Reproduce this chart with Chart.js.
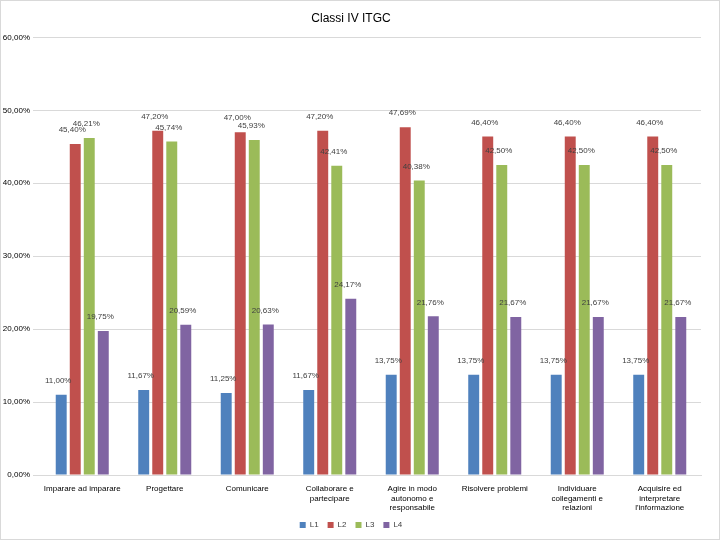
<!DOCTYPE html>
<html>
<head>
<meta charset="utf-8">
<script src="https://cdn.jsdelivr.net/npm/chart.js@4/dist/chart.umd.min.js"></script>
<style>
    html, body { margin: 0; padding: 0; background: #fff; }
    #wrap { position: absolute; left: 0; top: 0; width: 718px; height: 538px; border: 1px solid #d9d9d9; }
</style>
</head>
<body>
<div id="wrap"><canvas id="myChart" width="718" height="538"></canvas></div>
<script>
const categories = [
    ['Imparare ad imparare'],
    ['Progettare'],
    ['Comunicare'],
    ['Collaborare e', 'partecipare'],
    ['Agire in modo', 'autonomo e', 'responsabile'],
    ['Risolvere problemi'],
    ['Individuare', 'collegamenti e', 'relazioni'],
    ['Acquisire ed', 'interpretare', "l'informazione"]
];
const seriesNames = ['L1', 'L2', 'L3', 'L4'];
const valuesL1 = [11.00, 11.67, 11.25, 11.67, 13.75, 13.75, 13.75, 13.75];
const valuesL2 = [45.40, 47.20, 47.00, 47.20, 47.69, 46.40, 46.40, 46.40];
const valuesL3 = [46.21, 45.74, 45.93, 42.41, 40.38, 42.50, 42.50, 42.50];
const valuesL4 = [19.75, 20.59, 20.63, 24.17, 21.76, 21.67, 21.67, 21.67];
const colors = ['#4F81BD', '#C0504D', '#9BBB59', '#8064A2'];

const FONT = "'Liberation Sans', 'DejaVu Sans', sans-serif";

function fmt(v) {
    return v.toFixed(2).replace('.', ',') + '%';
}

// Draw value labels above each bar
const barLabels = {
    id: 'barLabels',
    afterDatasetsDraw(chart) {
        const ctx = chart.ctx;
        ctx.save();
        ctx.font = '8px ' + FONT;
        ctx.fillStyle = '#404040';
        ctx.textAlign = 'center';
        ctx.textBaseline = 'bottom';
        chart.data.datasets.forEach(function(ds, i) {
            const meta = chart.getDatasetMeta(i);
            meta.data.forEach(function(bar, j) {
                ctx.fillText(fmt(ds.data[j]), bar.x - 3, bar.y - 10);
            });
        });
        ctx.restore();
    }
};

const allValues = [valuesL1, valuesL2, valuesL3, valuesL4];

const ctx = document.getElementById('myChart').getContext('2d');
const chart = new Chart(ctx, {
    type: 'bar',
    data: {
        labels: categories,
        datasets: seriesNames.map(function(name, i) {
            return {
                label: name,
                data: allValues[i],
                backgroundColor: colors[i],
                categoryPercentage: 0.68,
                barPercentage: 0.78
            };
        })
    },
    options: {
        responsive: false,
        animation: false,
        layout: { padding: { top: 4, right: 18, bottom: 0, left: 0 } },
        plugins: {
            title: {
                display: true,
                text: 'Classi IV ITGC',
                color: '#000',
                font: { family: FONT, size: 12, weight: 'normal' },
                padding: { top: 6, bottom: 12 }
            },
            legend: {
                position: 'bottom',
                labels: {
                    boxWidth: 6,
                    boxHeight: 6,
                    color: '#404040',
                    font: { family: FONT, size: 8 },
                    padding: 9
                }
            },
            tooltip: { enabled: false }
        },
        scales: {
            x: {
                grid: { display: false },
                border: { color: '#d9d9d9' },
                ticks: {
                    color: '#000',
                    font: { family: FONT, size: 8 },
                    maxRotation: 0,
                    autoSkip: false,
                    padding: 1
                },
                afterFit: function(scale) { scale.height = 37; }
            },
            y: {
                min: 0,
                max: 60,
                grid: { color: '#d9d9d9' },
                border: { display: false },
                ticks: {
                    stepSize: 10,
                    color: '#000',
                    font: { family: FONT, size: 8 },
                    callback: function(v) { return fmt(v); }
                },
                afterFit: function(scale) { scale.width = 40; }
            }
        }
    },
    plugins: [barLabels]
});
</script>
</body>
</html>
